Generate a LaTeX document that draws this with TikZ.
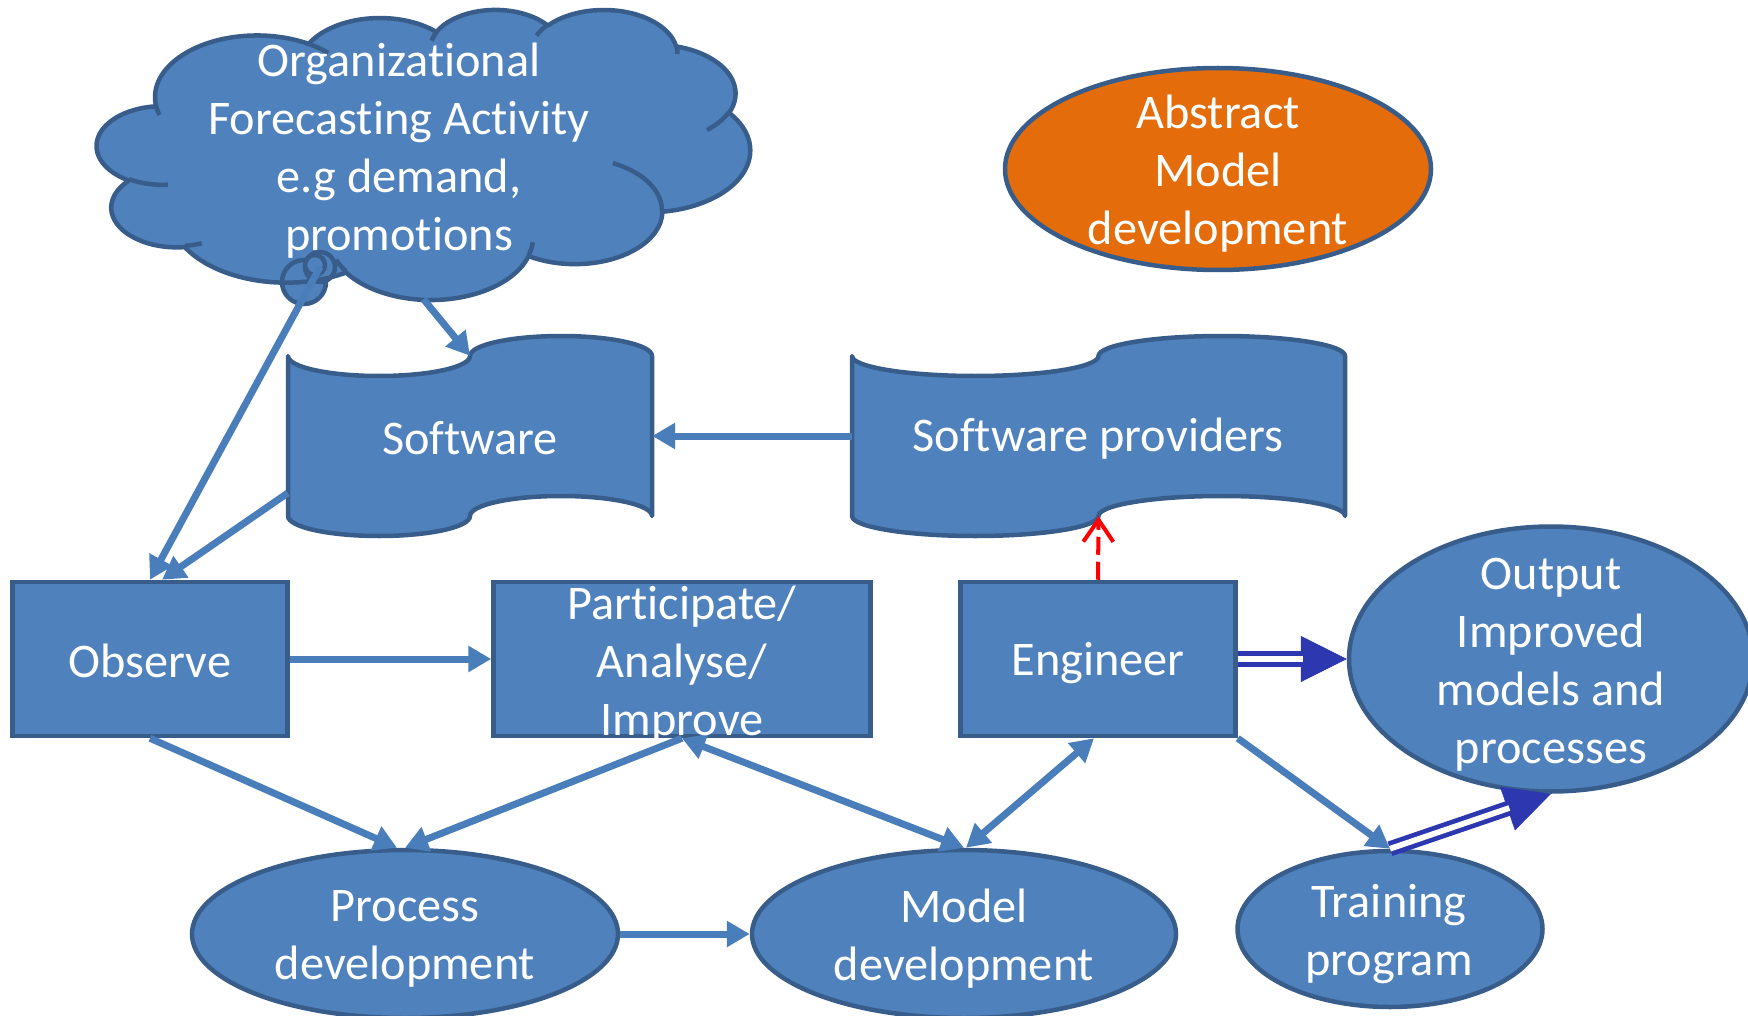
\documentclass[tikz,border=0pt]{standalone}
\usepackage{fontspec}
\setmainfont{Carlito}[Ligatures={NoCommon}]
\usetikzlibrary{arrows.meta,shapes.geometric,calc}
\definecolor{fillblue}{HTML}{4F81BD}
\definecolor{borderblue}{HTML}{385D8A}
\definecolor{connblue}{HTML}{4A7EBB}
\definecolor{darkblue}{HTML}{2D37AF}
\definecolor{orangefill}{HTML}{E46C0A}
\newcommand{\cloudpath}{(39.00,143.70)
 arc[start angle=-187.746, delta angle=128.116, x radius=67.53, y radius=91.90]
 arc[start angle=-152.02, delta angle=106.525, x radius=53.33, y radius=72.67]
 arc[start angle=-153.486, delta angle=116.168, x radius=43.65, y radius=59.45]
 arc[start angle=-139.704, delta angle=129.494, x radius=48.57, y radius=65.95]
 arc[start angle=-74.779, delta angle=97.983, x radius=53.33, y radius=72.73]
 arc[start angle=-37.530, delta angle=119.389, x radius=67.75, y radius=92.20]
 arc[start angle=0.4596, delta angle=121.531, x radius=57.85, y radius=78.67]
 arc[start angle=16.844, delta angle=129.396, x radius=67.52, y radius=92.15]
 arc[start angle=59.013, delta angle=91.157, x radius=77.20, y radius=105.43]
 arc[start angle=83.301, delta angle=139.784, x radius=43.60, y radius=59.18]
 arc[start angle=120.378, delta angle=143.732, x radius=43.45, y radius=59.45]
 -- cycle}
\begin{document}
\begin{tikzpicture}[x=1pt,y=-1pt,
  outline/.style={draw=borderblue, line width=4.5pt},
  shapebox/.style={outline, fill=fillblue, inner sep=0pt},
  rectbox/.style={shapebox, rectangle},
  ellbox/.style={shapebox, ellipse},
  holder/.style={inner sep=0pt, draw=none},
  txt/.style={text=white, align=center, inner sep=0pt, font=\fontsize{48.3}{58}\selectfont},
  conn/.style={draw=connblue, line width=7pt, -{Triangle[length=23pt,width=25pt]}},
  conntwo/.style={draw=connblue, line width=7pt, {Triangle[length=23pt,width=25pt]}-{Triangle[length=23pt,width=25pt]}},
  bighead/.style={draw=darkblue, fill=darkblue, line width=0.5pt, -{Triangle[length=46pt,width=46pt]}},
  dblline/.style={draw=darkblue, double=white, line width=4.7pt, double distance=5.7pt, shorten >=44pt},
  redarrow/.style={draw=red, line width=4pt, dash pattern=on 18pt off 7pt, -{Straight Barb[length=22pt,width=30pt]}}
]
\useasboundingbox (0,0) rectangle (1748,1016);

% ---------- cloud callout ----------
\node[holder, minimum width=653pt, minimum height=290pt] (cloud) at (423.5,154) {};
\begin{scope}[shift={(97,9)}, x=1.5116pt, y=-0.6713pt]
  \fill[fillblue] \cloudpath;
\end{scope}
\node[shapebox, circle, minimum size=44pt] (bubbig) at (304,282) {};
\node[shapebox, circle, minimum size=30pt] (bub) at (320,267) {};
\node[shapebox, circle, minimum size=20pt] (bubsmall) at (315,265) {};
\begin{scope}[shift={(97,9)}, x=1.5116pt, y=-0.6713pt, line width=4.5pt]
  \draw[borderblue, line join=round] \cloudpath;
  \draw[borderblue] (46.93,261.77) arc[start angle=85.546, delta angle=34.832, x radius=43.45, y radius=59.45];
  \draw[borderblue] (69.28,348.99) arc[start angle=68.245, delta angle=15.056, x radius=43.60, y radius=59.18];
  \draw[borderblue] (164.78,390.90) arc[start angle=146.240, delta angle=12.238, x radius=67.52, y radius=92.15];
  \draw[borderblue] (288.27,347.51) arc[start angle=4.738, delta angle=12.106, x radius=67.52, y radius=92.15];
  \draw[borderblue] (341.29,229.54) arc[start angle=-63.985, delta angle=64.445, x radius=57.85, y radius=78.67];
  \draw[borderblue] (417.98,153.54) arc[start angle=23.204, delta angle=26.441, x radius=53.33, y radius=72.73];
  \draw[borderblue] (383.24,54.26) arc[start angle=-10.210, delta angle=11.031, x radius=48.57, y radius=65.95];
  \draw[borderblue] (290.78,39.52) arc[start angle=-156.280, delta angle=16.576, x radius=48.57, y radius=65.95];
  \draw[borderblue] (221.41,47.20) arc[start angle=-167.726, delta angle=14.24, x radius=43.65, y radius=59.45];
  \draw[borderblue] (140.00,51.92) arc[start angle=-59.63, delta angle=13.893, x radius=67.53, y radius=91.90];
  \draw[borderblue] (41.27,157.89) arc[start angle=163.193, delta angle=9.061, x radius=67.53, y radius=91.90];
\end{scope}
\node[txt] (cloudtxt) at (399,151) {Organizational\\Forecasting Activity\\e.g demand,\\promotions};

% ---------- abstract ellipse ----------
\node[shapebox, ellipse, fill=orangefill, minimum width=426pt, minimum height=202pt] (abs) at (1218,169) {};
\node[txt] (abstxt) at (1218,174) {Abstract\\Model\\development};

% ---------- punched tapes ----------
\node[holder, minimum width=364pt, minimum height=200pt] (sw) at (470,436) {};
\filldraw[outline, fill=fillblue, line join=round] (288,356)
  arc[start angle=180, end angle=0, x radius=91, y radius=20]
  arc[start angle=180, end angle=360, x radius=91, y radius=20]
  -- (652,516)
  arc[start angle=0, end angle=-180, x radius=91, y radius=20]
  arc[start angle=0, end angle=180, x radius=91, y radius=20]
  -- cycle;
\node[txt] (swtxt) at (470,438) {Software};

\node[holder, minimum width=493pt, minimum height=200pt] (sp) at (1098.5,436) {};
\filldraw[outline, fill=fillblue, line join=round] (852,356)
  arc[start angle=180, end angle=0, x radius=123.25, y radius=20]
  arc[start angle=180, end angle=360, x radius=123.25, y radius=20]
  -- (1345,516)
  arc[start angle=0, end angle=-180, x radius=123.25, y radius=20]
  arc[start angle=0, end angle=180, x radius=123.25, y radius=20]
  -- cycle;
\node[txt] (sptxt) at (1098,439) {Software providers};

% ---------- boxes ----------
\node[rectbox, minimum width=275pt, minimum height=154pt] (observe) at (150,659) {};
\node[rectbox, minimum width=377pt, minimum height=154pt] (part) at (682,659) {};
\node[rectbox, minimum width=275pt, minimum height=154pt] (eng) at (1098,659) {};

% ---------- ellipses ----------
\node[ellbox, minimum width=404pt, minimum height=265pt] (output) at (1551,659) {};
\node[ellbox, minimum width=426pt, minimum height=168pt] (proc) at (405,934) {};
\node[ellbox, minimum width=424pt, minimum height=168pt] (model) at (964,934) {};
\node[ellbox, minimum width=305pt, minimum height=156pt] (train) at (1390,929) {};

% ---------- connectors ----------
\draw[conn] (bub.center) -- (observe.north);
\draw[conn] ([yshift=-57pt]sw.west) -- ([xshift=12pt]observe.north);
\draw[conn] (cloud.south) -- ([yshift=-20pt]sw.north);
\draw[conn] (sp.west) -- (sw.east);
\draw[conn] (observe.east) -- (part.west);
\draw[conn] (observe.south) -- ([xshift=-8pt]proc.north);
\draw[conn] (part.south) -- (proc.north);
\draw[conntwo] (part.south) -- (model.north);
\draw[conntwo] ([xshift=-4pt]eng.south) -- ([xshift=2pt]model.north);
\draw[conn] (proc.east) -- (model.west);
\draw[conn] (eng.south east) -- (train.north);
\draw[redarrow] (eng.north) -- ([yshift=20pt]sp.south);
\draw[bighead] (eng.east) -- (output.west);
\draw[dblline] (eng.east) -- (output.west);
\draw[bighead] (train.north) -- (output.south);
\draw[dblline] (train.north) -- (output.south);

% ---------- texts ----------
\node[txt] (obstxt) at (150,661) {Observe};
\node[txt] (parttxt) at (682,665) {Participate/\\Analyse/\\Improve};
\node[txt] (engtxt) at (1098,663) {Engineer};
\node[txt] (outtxt) at (1551,665) {Output\\Improved\\models and\\processes};
\node[txt] (proctxt) at (405,939) {Process\\development};
\node[txt] (modeltxt) at (964,939) {Model\\development};
\node[txt] (traintxt) at (1389,934) {Training\\program};
\end{tikzpicture}
\end{document}
